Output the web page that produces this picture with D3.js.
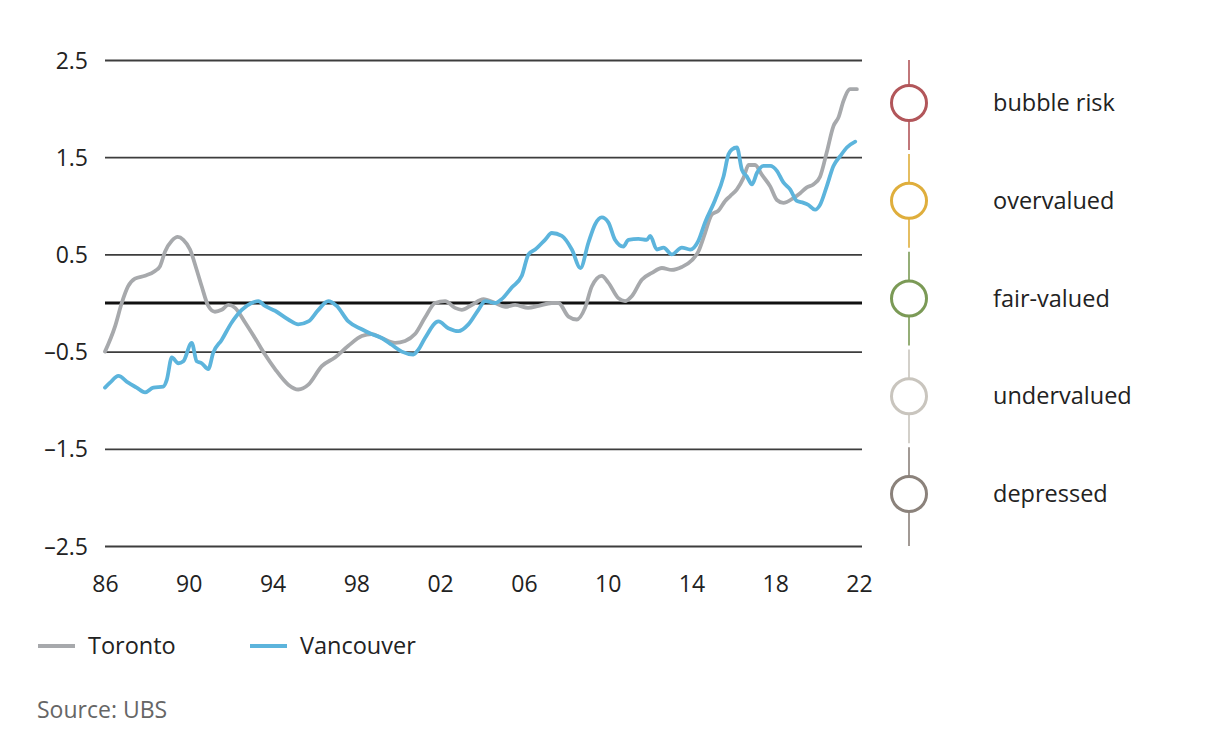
<!DOCTYPE html>
<html>
<head>
<meta charset="utf-8">
<script src="https://cdn.jsdelivr.net/npm/d3@7/dist/d3.min.js"></script>
<style>
  html, body { margin: 0; padding: 0; background: #fff; }
  svg { display: block; font-family: "Open Sans", "Noto Sans", sans-serif; }
</style>
</head>
<body>
<svg id="chart" width="1208" height="746"></svg>
<script>
// Bubble index, Toronto and Vancouver (decimal years)
const torontoYears = [
  1986.0, 1986.48, 1986.8, 1987.1, 1987.43, 1987.91, 1988.39, 1988.63, 1988.87, 1989.19,
  1989.47, 1989.74, 1990.06, 1990.38, 1990.62, 1990.93, 1991.25, 1991.57, 1991.89, 1992.21,
  1992.69, 1993.16, 1993.64, 1994.12, 1994.75, 1995.23, 1995.71, 1996.35, 1996.98, 1997.62,
  1998.26, 1998.73, 1999.21, 1999.85, 2000.33, 2000.8, 2001.28, 2001.76, 2002.24, 2002.71,
  2003.03, 2003.51, 2004.07, 2004.62, 2005.1, 2005.58, 2006.2, 2006.7, 2007.33, 2007.65,
  2008.13, 2008.53, 2008.92, 2009.24, 2009.72, 2010.03, 2010.51, 2010.83, 2011.15, 2011.63,
  2012.11, 2012.59, 2013.06, 2013.54, 2014.02, 2014.33, 2014.65, 2014.97, 2015.29, 2015.61,
  2015.85, 2016.17, 2016.49, 2016.73, 2017.04, 2017.36, 2017.76, 2018.08, 2018.39, 2018.87,
  2019.19, 2019.51, 2019.82, 2020.14, 2020.46, 2020.78, 2021.02, 2021.26, 2021.58, 2021.9
];
const torontoValues = [
  -0.50, -0.24, 0.00, 0.17, 0.25, 0.28, 0.33, 0.38, 0.53, 0.64,
  0.68, 0.65, 0.55, 0.34, 0.17, -0.03, -0.09, -0.07, -0.02, -0.05,
  -0.20, -0.36, -0.53, -0.68, -0.84, -0.89, -0.84, -0.65, -0.56, -0.44,
  -0.34, -0.32, -0.36, -0.41, -0.39, -0.32, -0.15, 0.00, 0.02, -0.05,
  -0.07, -0.02, 0.04, 0.00, -0.04, -0.02, -0.05, -0.03, 0.00, 0.00,
  -0.14, -0.17, -0.05, 0.17, 0.28, 0.21, 0.05, 0.02, 0.07, 0.24,
  0.31, 0.36, 0.34, 0.37, 0.44, 0.53, 0.72, 0.91, 0.95, 1.05,
  1.10, 1.17, 1.29, 1.42, 1.42, 1.32, 1.20, 1.06, 1.03, 1.08,
  1.13, 1.19, 1.22, 1.30, 1.55, 1.82, 1.91, 2.08, 2.20, 2.20
];

const vancouverYears = [
  1986.0, 1986.24, 1986.64, 1987.11, 1987.51, 1987.91, 1988.31, 1988.78, 1988.95, 1989.19,
  1989.5, 1989.74, 1990.14, 1990.38, 1990.62, 1990.93, 1991.17, 1991.57, 1992.05, 1992.53,
  1993.0, 1993.32, 1993.64, 1994.12, 1994.75, 1995.23, 1995.71, 1996.19, 1996.66, 1997.06,
  1997.62, 1998.26, 1998.73, 1999.21, 1999.69, 2000.17, 2000.72, 2000.96, 2001.28, 2001.92,
  2002.39, 2002.87, 2003.35, 2003.83, 2004.15, 2004.62, 2004.94, 2005.42, 2005.9, 2006.22,
  2006.54, 2007.01, 2007.33, 2007.81, 2008.29, 2008.7, 2009.08, 2009.4, 2009.72, 2010.03,
  2010.35, 2010.75, 2010.99, 2011.47, 2011.87, 2012.03, 2012.35, 2012.67, 2013.06, 2013.54,
  2013.94, 2014.33, 2014.65, 2015.13, 2015.53, 2015.77, 2015.93, 2016.17, 2016.41, 2016.65,
  2016.89, 2017.13, 2017.44, 2017.76, 2018.08, 2018.39, 2018.71, 2019.03, 2019.35, 2019.58,
  2019.9, 2020.14, 2020.46, 2020.78, 2021.1, 2021.42, 2021.82
];
const vancouverValues = [
  -0.87, -0.82, -0.75, -0.82, -0.87, -0.92, -0.87, -0.86, -0.79, -0.56,
  -0.62, -0.60, -0.41, -0.60, -0.62, -0.68, -0.51, -0.38, -0.20, -0.07,
  0.00, 0.02, -0.03, -0.08, -0.17, -0.22, -0.19, -0.07, 0.02, -0.03,
  -0.19, -0.27, -0.32, -0.36, -0.43, -0.50, -0.53, -0.48, -0.36, -0.19,
  -0.26, -0.29, -0.22, -0.07, 0.02, 0.00, 0.04, 0.16, 0.28, 0.50,
  0.55, 0.65, 0.72, 0.69, 0.55, 0.36, 0.62, 0.81, 0.88, 0.83,
  0.65, 0.58, 0.65, 0.66, 0.65, 0.69, 0.55, 0.57, 0.50, 0.57,
  0.55, 0.64, 0.83, 1.06, 1.30, 1.53, 1.58, 1.60, 1.37, 1.30,
  1.22, 1.34, 1.41, 1.41, 1.36, 1.24, 1.17, 1.05, 1.03, 1.01,
  0.96, 1.01, 1.20, 1.41, 1.51, 1.60, 1.66
];

const yTicks = [2.5, 1.5, 0.5, -0.5, -1.5, -2.5];
const xTicks = [1986, 1990, 1994, 1998, 2002, 2006, 2010, 2014, 2018, 2022];

const riskLevels = ["bubble risk", "overvalued", "fair-valued", "undervalued", "depressed"];
const riskColors = ["#b2565a", "#dfae3c", "#7b9a56", "#c9c5be", "#8b827b"];

const seriesNames = ["Toronto", "Vancouver"];
const seriesColors = ["#a7a9ac", "#5cb4dc"];

const FONT = '"Open Sans", "Noto Sans", sans-serif';
const svg = d3.select("#chart");

const x = d3.scaleLinear().domain([1986, 2022]).range([105, 859]);
const y = d3.scaleLinear().domain([-2.5, 2.5]).range([546, 60]);

// Horizontal gridlines via the y axis
const yAxis = d3.axisLeft(y)
  .tickValues(yTicks)
  .tickSize(-(862 - 105))
  .tickPadding(17)
  .tickFormat(d => d3.format(".1f")(d).replace("-", "\u2013").replace("\u2212", "\u2013"));

const gy = svg.append("g").attr("transform", "translate(105,0)").call(yAxis)
  .attr("font-family", FONT);
gy.select(".domain").remove();
gy.selectAll(".tick line").attr("stroke", "#3d3d3d").attr("stroke-width", 1.8);
gy.selectAll(".tick text")
  .attr("fill", "#222").attr("font-size", 23).attr("dy", "0.35em");

// Zero line
svg.append("line")
  .attr("x1", 105).attr("x2", 862)
  .attr("y1", y(0)).attr("y2", y(0))
  .attr("stroke", "#111").attr("stroke-width", 2.8);

// X axis labels
const xAxis = d3.axisBottom(x)
  .tickValues(xTicks)
  .tickSize(0)
  .tickPadding(0)
  .tickFormat(d => String(d % 100).padStart(2, "0"));
const gx = svg.append("g").attr("transform", "translate(0,576)").call(xAxis)
  .attr("font-family", FONT);
gx.select(".domain").remove();
gx.selectAll(".tick text").attr("fill", "#222").attr("font-size", 23).attr("dy", "0.71em");

// Series lines
const line = d3.line()
  .x(d => x(d[0]))
  .y(d => y(d[1]))
  .curve(d3.curveMonotoneX);

const series = [
  d3.zip(torontoYears, torontoValues),
  d3.zip(vancouverYears, vancouverValues)
];

svg.append("g").selectAll("path")
  .data(series)
  .join("path")
  .attr("d", line)
  .attr("fill", "none")
  .attr("stroke", (d, i) => seriesColors[i])
  .attr("stroke-width", 3.8)
  .attr("stroke-linejoin", "round")
  .attr("stroke-linecap", "round");

// Valuation scale on the right
const rs = d3.scalePoint().domain(riskLevels).range([103, 494]);
const step = rs.step();
const scaleX = 909;
const rg = svg.append("g");

riskLevels.forEach((lvl, i) => {
  const cy = rs(lvl);
  const top = i === 0 ? y(2.5) : cy - step / 2 + 2;
  const bot = i === riskLevels.length - 1 ? y(-2.5) : cy + step / 2 - 2;
  rg.append("line")
    .attr("x1", scaleX).attr("x2", scaleX)
    .attr("y1", top).attr("y2", bot)
    .attr("stroke", riskColors[i]).attr("stroke-width", 2)
    .attr("opacity", 0.8);
  rg.append("circle")
    .attr("cx", scaleX).attr("cy", cy).attr("r", 17.5)
    .attr("fill", "#fff")
    .attr("stroke", riskColors[i]).attr("stroke-width", 3);
  rg.append("text")
    .attr("x", 993).attr("y", cy).attr("dy", "0.35em")
    .attr("font-size", 23.5).attr("fill", "#222")
    .text(lvl);
});

// Legend
const lg = svg.append("g");
const legendX = [38, 250];
seriesNames.forEach((name, i) => {
  lg.append("line")
    .attr("x1", legendX[i]).attr("x2", legendX[i] + 37)
    .attr("y1", 646).attr("y2", 646)
    .attr("stroke", seriesColors[i]).attr("stroke-width", 4);
  lg.append("text")
    .attr("x", legendX[i] + 50).attr("y", 646).attr("dy", "0.35em")
    .attr("font-size", 23.5).attr("fill", "#222")
    .text(name);
});

svg.append("text")
  .attr("x", 37).attr("y", 710).attr("dy", "0.35em")
  .attr("font-size", 23).attr("fill", "#666")
  .text("Source: UBS");
</script>
</body>
</html>
